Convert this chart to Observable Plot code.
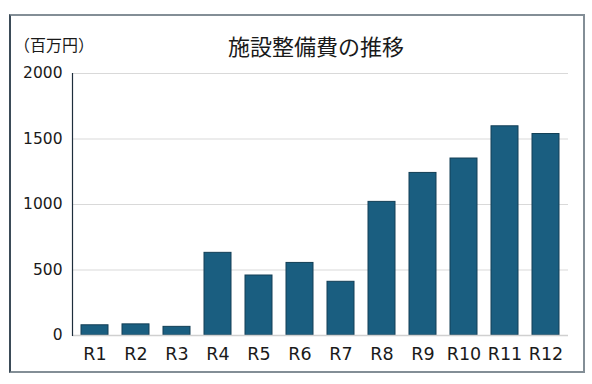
<!DOCTYPE html>
<html><head><meta charset="utf-8">
<script src="https://cdn.jsdelivr.net/npm/d3@7"></script>
<script src="https://cdn.jsdelivr.net/npm/@observablehq/plot@0.6"></script>
<style>
html,body{margin:0;padding:0;background:#fff;}
#wrap{position:relative;width:592px;height:384px;font-family:"Noto Sans CJK JP","Noto Sans",sans-serif;}
#frame{position:absolute;left:9px;top:14px;width:572px;height:355px;border:2px solid #838e96;border-left-color:#3b4b58;}
#title{position:absolute;left:0;width:632px;top:30px;text-align:center;font-size:22px;color:#1a1a1a;line-height:30px;}
#unit{position:absolute;left:14px;top:33px;font-size:16px;color:#1a1a1a;line-height:22px;}
svg{position:absolute;left:0;top:0;}
</style></head>
<body><div id="wrap"><div id="frame"></div><div id="title">施設整備費の推移</div><div id="unit">（百万円）</div></div>
<script>
const categories = ["R1","R2","R3","R4","R5","R6","R7","R8","R9","R10","R11","R12"];
const values = [78, 85, 66, 631, 458, 554, 410, 1020, 1241, 1351, 1597, 1538];
const yTicks = [0, 500, 1000, 1500, 2000];
const data = categories.map((c, i) => ({cat: c, value: values[i]}));

const chart = Plot.plot({
  width: 592,
  height: 384,
  marginLeft: 72,
  marginRight: 24,
  marginTop: 73,
  marginBottom: 49,
  style: {fontFamily: "'DejaVu Sans',sans-serif", fontSize: "15px", color: "#1a1a1a", background: "transparent"},
  x: {domain: categories, paddingInner: 0.35, paddingOuter: 0.175, label: null},
  y: {domain: [0, 2000], label: null},
  marks: [
    Plot.gridY(yTicks, {stroke: "#d9d9d9", strokeOpacity: 1, strokeWidth: 1}),
    Plot.axisY(yTicks, {tickSize: 0, tickPadding: 10, fontSize: 15.5, tickFormat: d3.format("d"), label: null}),
    Plot.axisX({tickSize: 0, tickPadding: 12, fontSize: 17.5, label: null}),
    Plot.barY(data, {x: "cat", y: "value", fill: "#1a5e80", stroke: "#123f56", strokeWidth: 1}),
    Plot.ruleY([0], {stroke: "#d0d0d0", strokeWidth: 1.5}),
    Plot.frame({anchor: "left", stroke: "#1e2e3c", strokeWidth: 1.2})
  ]
});
document.getElementById("wrap").appendChild(chart);
</script>
</body></html>
